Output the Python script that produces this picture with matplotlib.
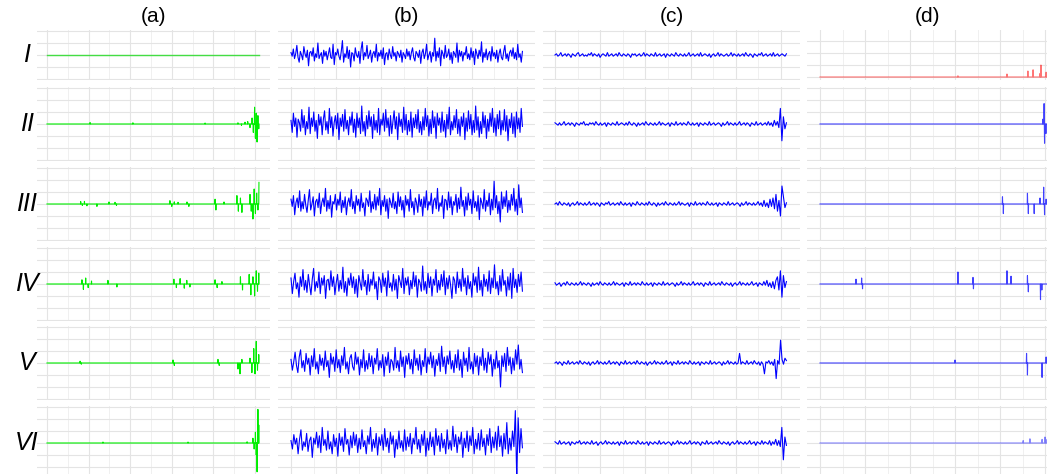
import numpy as np
import matplotlib
matplotlib.use("Agg")
import matplotlib.pyplot as plt
from matplotlib.ticker import MultipleLocator

plt.rcParams["font.family"] = ["Liberation Sans", "DejaVu Sans"]

COL_TITLES = ["(a)", "(b)", "(c)", "(d)"]
ROW_LABELS = ["I", "II", "III", "IV", "V", "VI"]
N = 1040

# column (a): sparse bursts on a flat line, (index, amplitude)
a_spikes = [
    [],
    [(207, 0.12), (413, 0.1), (760, 0.08), (918, 0.1), (935, -0.12), (952, 0.15), (965, 0.2),
     (976, -0.3), (986, 0.5), (992, -0.7), (998, 1.4), (1002, -1.2), (1006, 0.9), (1010, -1.5),
     (1014, 0.7), (1018, -0.4)],
    [(162, 0.2), (170, -0.12), (180, 0.22), (192, -0.15), (240, -0.2), (298, 0.17), (327, 0.14),
     (334, -0.12), (591, 0.28), (600, -0.2), (612, 0.18), (630, 0.14), (673, 0.17), (682, -0.2),
     (808, 0.4), (812, -0.5), (851, 0.17), (913, 0.7), (920, -0.6), (930, 0.5), (937, -0.7),
     (976, 0.8), (982, -0.6), (990, -1.25), (996, 1.25), (1002, -0.8), (1008, 0.9), (1014, -0.5),
     (1019, 1.8)],
    [(168, 0.35), (175, -0.45), (186, 0.5), (198, -0.3), (214, 0.25), (293, 0.3), (336, -0.25),
     (610, 0.4), (622, -0.3), (640, 0.45), (660, -0.35), (672, 0.3), (687, -0.25), (808, 0.35),
     (818, -0.3), (841, 0.2), (930, 0.6), (940, -0.5), (972, 0.8), (980, -0.9), (990, 0.6),
     (998, -1.0), (1006, 1.1), (1012, -0.6), (1018, 0.9)],
    [(159, 0.15), (165, -0.1), (606, 0.25), (612, -0.2), (822, 0.3), (828, -0.2), (918, -0.5),
     (928, -0.9), (937, 0.3), (976, 0.4), (985, -0.8), (994, 1.2), (1000, -0.9), (1006, 1.8),
     (1012, -0.6), (1018, 0.7)],
    [(269, 0.08), (678, 0.08), (962, 0.1), (990, 0.4), (996, -0.5), (1002, 0.9), (1006, -1.0),
     (1010, -2.4), (1014, 2.8), (1018, 1.5), (1022, -1.2), (1026, 0.6)],
]

# column (b): dense noise, tenths of a grid unit
b_rows = [
    [2, -1, 5, -3, 1, 8, -2, -6, 3, 0, -4, 7, 1, -2, 4, -9, 2, 3, -1, 6, -5, 1, -2, 10, -3, 0, 2, -7, 4,
     -1, 3, -4, 1, 6, -2, -3, 9, -8, 2, 0, 5, -1, -4, 3, 12, -6, 1, -2, 7, -3, 4, -10, 2, 1, -5, 6, 0,
     -2, 3, -7, 5, 11, -4, 2, -1, 8, -3, 0, 4, -6, 1, 3, -2, 9, -5, 2, -1, 4, -3, 6, -8, 1, 2, -4, 5, 0,
     -3, 7, -1, 2, -5, 3, 1, -2, 4, -6, 2, 0, -3, 5, -1, 3, -4, 2, 6, -2, -5, 3, 1, -2, 4, -7, 2, 5, -3,
     1, 9, -4, 0, 3, -6, 2, -1, 14, -5, 3, -2, 6, -9, 4, 1, -3, 8, -2, 0, 5, -4, 2, -7, 3, 1, -2, 10,
     -6, 4, -1, 3, -5, 2, 0, 7, -3, 1, -4, 6, -2, 3, -8, 5, 1, -3, 4, -1, 11, -6, 2, -2, 5, -4, 1, 3,
     -5, 7, -1, 2, -3, 4, -6, 1, 5, -2, -4, 3, 8, -3, 1, -5, 2, 4, -1, 6, -3, 2, -4, 9, -2, 1, -6, 3],
    [3, -7, 9, -2, 5, -11, 4, 1, -6, 12, -3, 7, -9, 2, -4, 14, -8, 5, -2, 10, -6, 3, -12, 8, -1, 6, -9,
     4, 11, -5, 2, -8, 13, -3, 6, -10, 1, 7, -4, 9, -13, 5, -2, 8, -6, 12, -4, 3, -9, 6, -1, 10, -7, 4,
     -11, 9, -3, 5, -8, 15, -6, 2, -10, 7, -4, 11, -2, 6, -12, 8, -5, 3, -7, 13, -9, 4, -1, 9, -6, 12,
     -3, 5, -10, 7, -8, 2, 11, -4, 6, -13, 9, -2, 4, -7, 14, -5, 8, -9, 3, -6, 10, -11, 5, -3, 8, -4,
     12, -7, 2, -9, 6, -5, 13, -2, 7, -10, 4, -8, 11, -3, 6, -12, 9, -1, 5, -7, 10, -6, 3, -11, 8, -4,
     14, -9, 2, -5, 7, -3, 12, -8, 4, -10, 6, -2, 9, -13, 5, -6, 11, -4, 8, -9, 3, -7, 15, -5, 6, -11,
     2, -8, 10, -3, 7, -12, 4, -6, 9, -2, 13, -7, 5, -10, 8, -4, 11, -9, 3, -5, 12, -6, 7, -14, 4, -3,
     9, -8, 6, -11, 10, -4, 5, -7, 13, -2],
    [4, -2, 7, -9, 1, 5, -3, 11, -6, 2, -4, 8, -1, -7, 3, 12, -5, 0, 6, -10, 2, 4, -3, 9, -8, 1, 5, -2,
     13, -6, 3, -4, 7, -11, 2, 0, 8, -5, 4, -1, 10, -7, 3, -3, 6, -9, 1, 5, -2, 12, -4, 2, -8, 7, -1, 4,
     -6, 9, -3, 1, -10, 5, 3, -2, 11, -7, 2, -4, 8, -5, 6, -1, 13, -9, 3, -2, 7, -6, 4, -12, 5, 1, -3, 9,
     -4, 2, -8, 10, -2, 6, -5, 3, -11, 7, -1, 4, -6, 12, -3, 2, -9, 5, 1, -7, 8, -2, 4, -10, 6, -3, 11,
     -5, 2, -1, 9, -8, 3, 5, -4, 13, -6, 1, -2, 7, -12, 4, 3, -5, 10, -3, 6, -9, 2, -1, 8, -7, 5, -4, 14,
     -2, 3, -10, 6, -5, 9, -1, 4, -8, 11, -3, 2, -6, 7, -13, 5, 1, -4, 12, -6, 3, -2, 9, -9, 4, -5, 19,
     -3, 7, -8, 2, -15, 10, -4, 6, -2, 11, -7, 3, -5, 8, -1, 13, -6, 4, -9, 16, -3, 5, -7],
    [5, -8, 2, 9, -4, 1, -11, 6, -2, 12, -5, 3, -7, 8, -1, -9, 4, 13, -6, 2, -3, 10, -8, 5, -1, 7, -12,
     3, 4, -5, 11, -2, 6, -9, 1, 8, -6, 3, -4, 14, -7, 2, -10, 5, -1, 9, -3, 6, -8, 4, -11, 7, 1, -5, 12,
     -2, 3, -9, 8, -6, 4, -1, 10, -4, 2, -13, 6, 3, -7, 9, -2, 5, -10, 11, -3, 1, -6, 8, -5, 4, -12, 7,
     2, -3, 13, -8, 5, -1, 6, -9, 3, -4, 10, -2, 7, -11, 4, 1, -6, 15, -5, 2, -8, 9, -3, 6, -10, 4, -1,
     12, -7, 3, -5, 8, -2, 11, -9, 5, -4, 7, -1, -12, 6, 3, -8, 10, -3, 4, -6, 13, -2, 5, -9, 7, -4, 2,
     -11, 9, -1, 6, -7, 14, -5, 3, -10, 8, -2, 4, -6, 11, -8, 5, -3, 16, -4, 2, -9, 7, -6, 12, -1, 3,
     -10, 6, -5, 9, -12, 13, -3, 4, -7, 8, -2, 10, -6],
    [3, -6, 1, 9, -2, -8, 5, 11, -4, 2, -7, 8, -1, 4, -10, 6, -3, 12, -5, 1, -9, 7, -2, 4, -6, 10, -3,
     2, -12, 8, -1, 5, -7, 11, -4, 3, -8, 6, -2, 13, -5, 1, -9, 4, 7, -3, -6, 9, -1, 5, -10, 3, -4, 11,
     -7, 2, -5, 8, -3, 6, -9, 4, -1, 12, -6, 2, -4, 7, -11, 5, -2, 9, -8, 3, 1, -6, 13, -4, 2, -7, 10,
     -3, 5, -12, 6, -1, 8, -5, 3, -9, 11, -2, 4, -6, 7, -10, 2, -3, 12, -8, 5, -1, 9, -4, 6, -11, 3, -2,
     8, -7, 14, -3, 5, -9, 6, -1, 10, -5, 2, -8, 7, -4, 11, -6, 3, -12, 9, -2, 4, -7, 13, -5, 1, -9, 8,
     -3, 6, -10, 5, -2, 12, -6, 4, -8, 9, -1, 7, -11, 3, -5, 10, -4, 2, -20, 6, -3, 8, -7, 13, -2, 5,
     -9, 4, -6, 11, -1, 15, -5, 3, -8],
    [2, -5, 7, -1, 4, -9, 3, 11, -6, 1, -3, 8, -7, 2, 5, -12, 4, -1, 9, -4, 6, -8, 13, -2, 3, -6, 10,
     -5, 1, -9, 7, -3, 4, -11, 8, -2, 5, -7, 12, -1, 3, -10, 6, -4, 9, -2, 7, -8, 4, -5, 11, -3, 2, -9,
     6, -1, 13, -7, 3, -4, 8, -10, 5, -2, 7, -6, 12, -3, 4, -8, 9, -1, 6, -12, 3, -5, 10, -4, 2, -7, 11,
     -6, 5, -3, 8, -9, 4, -1, 13, -5, 3, -8, 7, -2, 10, -11, 4, -6, 9, -3, 5, -10, 12, -2, 6, -7, 8, -4,
     3, -9, 11, -5, 2, -6, 14, -3, 7, -8, 5, -1, 9, -12, 4, -4, 10, -7, 6, -2, 13, -9, 3, -5, 8, -6, 11,
     -3, 4, -10, 7, -2, 12, -8, 5, -4, 9, -6, 14, -3, 6, -11, 8, -5, 17, -9, 4, -6, 10, -3, 27, -30, 21,
     -8, 12, -4],
]

# column (c): low-level noise with bursts near the end, tenths of a grid unit
c_rows = [
    [0, 1, -1, 0, 2, -1, 0, 1, -1, 1, 0, -2, 1, 0, -1, 1, 2, -1, 0, 1, -1, 0, -1, 1, 0, 2, -1, 1, 0, -1,
     1, -2, 0, 1, 0, -1, 2, -1, 0, 1, -1, 0, 1, -1, 2, 0, -1, 1, 0, -1, 1, 0, -2, 1, 0, 1, -1, 0, 1, -1,
     0, 2, -1, 1, 0, -1, 1, 0, -1, 2, -1, 0, 1, -1, 0, 1, -2, 1, 0, -1, 1, 0, -1, 2, 0, -1, 1, 0, -1, 1,
     -1, 0, 2, -1, 0, 1, -1, 0, 1, -1, 2, -1, 0, 1, 0, -1, 1, -2, 0, 1, -1, 0, 2, -1, 1, 0, -1, 0, 1, -1,
     0, 2, -1, 1, 0, -1, 1, -1, 0, 1, -1, 2, 0, -1, 1, 0, -2, 1, 0, -1, 1, 0, 2, -1, 0, 1, -1, 0, 1, -1,
     2, -1, 0, 1, -1, 0, 1, 0, -1, 1],
    [1, 0, -1, 1, -1, 0, 2, -1, 0, 1, -1, 1, 0, -2, 1, 0, -1, 1, 0, 2, -1, 0, -1, 1, 0, 1, -1, 2, 0, -1,
     1, -1, 0, 1, -2, 1, 0, -1, 1, 0, -1, 2, -1, 0, 1, 0, -1, 1, -1, 2, 0, -1, 1, 0, -2, 1, -1, 0, 1, -1,
     2, 0, -1, 1, 0, -1, 1, -1, 0, 2, -1, 1, 0, -1, 0, 1, -2, 1, 0, -1, 2, -1, 0, 1, -1, 1, 0, -1, 2, 0,
     -1, 1, -1, 0, 1, -2, 1, 0, -1, 1, 0, -1, 2, -1, 0, 1, -1, 0, 1, 0, -2, 1, -1, 0, 2, -1, 1, 0, -1, 1,
     -1, 0, 2, -1, 0, 1, -1, 1, 0, -2, 1, 0, -1, 2, -1, 0, 1, -1, 0, 1, -1, 2, -1, 1, -2, 3, -1, 2, -3,
     13, -14, 6, -4, 1],
    [0, 1, -1, 2, 0, -1, 1, 0, -1, 1, -2, 0, 1, -1, 0, 2, -1, 1, 0, -1, 1, -1, 0, 2, -1, 0, 1, -1, 1, 0,
     -2, 1, 0, -1, 1, 0, 2, -1, 0, 1, -1, 0, 1, -1, 2, 0, -1, 1, -1, 0, 1, -2, 1, 0, -1, 2, 0, -1, 1, 0,
     -1, 1, -1, 2, 0, -1, 1, 0, -2, 1, -1, 0, 1, -1, 2, 0, -1, 1, 0, -1, 1, -1, 0, 2, -1, 1, 0, -1, 0, 1,
     -2, 1, 0, -1, 2, -1, 0, 1, -1, 1, 0, -1, 2, 0, -1, 1, -1, 0, 1, -2, 1, 0, -1, 1, 0, -1, 2, -1, 0, 1,
     -1, 0, 1, 0, -2, 1, -1, 0, 2, -1, 1, 0, -1, 1, -1, 0, 2, -1, 1, -2, 3, -2, 1, -3, 4, -2, 5, -4, 8,
     -6, 3, -10, 15, 6, -3, 1],
    [1, -1, 0, 1, -2, 0, 1, -1, 2, 0, -1, 1, 0, -1, 1, -1, 0, 2, -1, 1, 0, -1, 1, 0, -2, 1, -1, 0, 1, -1,
     2, 0, -1, 1, 0, -1, 1, -1, 0, 2, -1, 1, 0, -1, 0, 1, -2, 1, 0, -1, 2, -1, 0, 1, -1, 1, 0, -1, 2, 0,
     -1, 1, -1, 0, 1, -2, 1, 0, -1, 1, 0, -1, 2, -1, 0, 1, -1, 0, 1, 0, -2, 1, -1, 0, 2, -1, 1, 0, -1, 1,
     -1, 0, 2, -1, 0, 1, -1, 1, 0, -2, 1, 0, -1, 2, -1, 0, 1, -1, 0, 1, -1, 2, 0, -1, 1, 0, -1, 1, -2, 0,
     1, -1, 0, 2, -1, 1, 0, -1, 1, -1, 0, 2, -1, 0, 1, -2, 1, 0, -1, 2, -1, 3, -2, 1, -3, 2, -4, 3, 6, -5,
     11, -11, 7, -3, 2],
    [0, 1, -1, 1, 0, -2, 1, 0, -1, 2, -1, 0, 1, -1, 0, 1, -1, 2, 0, -1, 1, 0, -1, 1, -2, 0, 1, -1, 0, 2,
     -1, 1, 0, -1, 1, -1, 0, 2, -1, 0, 1, -1, 1, 0, -2, 1, 0, -1, 2, -1, 0, 1, -1, 0, 1, -1, 2, 0, -1, 1,
     0, -1, 1, -2, 0, 1, -1, 0, 2, -1, 1, 0, -1, 1, -1, 0, 2, -1, 0, 1, -2, 1, 0, -1, 2, -1, 0, 1, -1, 1,
     0, -1, 2, 0, -1, 1, -1, 0, 1, -2, 1, 0, -1, 1, 0, -1, 2, -1, 0, 1, -1, 0, 1, 0, -2, 1, -1, 0, 2, -1,
     1, 0, -1, 1, -1, 0, 8, -1, 1, 0, -1, 2, -1, 0, 1, -1, 2, 0, -1, 1, -2, 1, -1, -9, 1, 0, 2, -1, 1, -2,
     3, -13, 2, -1, 19, 3, -1, 4, 2],
    [1, 0, -1, 2, -1, 0, 1, -1, 0, 1, -2, 1, 0, -1, 1, 0, 2, -1, 0, 1, -1, 1, 0, -1, 2, -1, 0, 1, -2, 0,
     1, -1, 0, 2, -1, 1, 0, -1, 1, -1, 0, 1, -2, 1, 0, -1, 2, -1, 0, 1, -1, 1, 0, -1, 2, 0, -1, 1, -1, 0,
     1, -2, 1, 0, -1, 1, 0, -1, 2, -1, 0, 1, -1, 0, 1, 0, -2, 1, -1, 0, 2, -1, 1, 0, -1, 1, -1, 0, 2, -1,
     0, 1, -1, 1, 0, -2, 1, 0, -1, 2, -1, 0, 1, -1, 0, 1, -1, 2, 0, -1, 1, 0, -1, 1, -2, 0, 1, -1, 0, 2,
     -1, 1, 0, -1, 1, -1, 0, 2, -1, 0, 1, -2, 1, 0, -1, 2, -1, 1, 0, -1, 2, -2, 1, -1, 3, -2, 2, -3, 13,
     -14, 5, -2],
]

# column (d): sparse spikes; row I is a one-sided (non-negative) signal
d_spikes = [
    [(613, 0.1), (831, 0.25), (924, 0.5), (947, 0.6), (978, 0.3), (982, 1.0), (1005, 0.4),
     (1015, 1.7), (1020, 0.6)],
    [(990, 0.4), (996, 1.7), (998, -1.6), (1004, -0.8), (1010, 0.5)],
    [(811, 0.6), (815, -0.8), (922, 0.9), (926, -0.8), (952, -0.8), (978, 0.5), (994, 1.4),
     (998, -0.9), (1005, 0.4)],
    [(160, 0.4), (185, 0.5), (189, -0.4), (613, 1.0), (680, 0.55), (682, -0.4), (831, 1.1),
     (849, 0.65), (922, 0.7), (926, -0.65), (980, -1.3), (986, -0.5), (1010, 0.8)],
    [(600, 0.25), (918, 0.8), (922, -1.0), (987, -1.2), (1005, 0.5)],
    [(903, 0.2), (933, 0.35), (987, 0.3), (1000, 0.5), (1004, 0.3)],
]

# layout in pixels of the 1047x474 canvas
W, H = 1047, 474
col_px = [(37, 270, 47, 0.208), (278, 535, 291, 0.226), (543, 800, 555, 0.226), (807, 1047, 820, 0.225)]
row_px = [(30, 80, 55), (87, 161, 124), (167, 241, 204), (247, 321, 284), (326, 400, 363), (406, 480, 443)]
UNIT = 12.0
END = 1024  # last sample drawn for the dense traces


def spike_series(spikes):
    y = np.zeros(N)
    for i, v in spikes:
        y[i] = v
    return y


fig = plt.figure(figsize=(W / 100, H / 100), dpi=100)

for r in range(6):
    top, bot, mid = row_px[r]
    for c in range(4):
        left, right, x0, s = col_px[c]
        ax = fig.add_axes([left / W, 1 - bot / H, (right - left) / W, (bot - top) / H])
        ax.set_xlim((left - x0) / s, (right - x0) / s)
        if r == 0 and c == 3:
            ax.set_ylim(-(bot - 77) / UNIT, (77 - top) / UNIT)
        else:
            ax.set_ylim(-(bot - mid) / UNIT, (mid - top) / UNIT)

        if c == 0:
            y = spike_series(a_spikes[r])[:1020]
            col = "#44dd44" if r == 0 else "#00ee00"
            ax.plot(np.arange(len(y)), y, color=col, lw=1.0 if r == 0 else 0.8)
        elif c == 1:
            y = np.array(b_rows[r]) / 10
            ax.plot(np.linspace(0, END, len(y)), y, color="#0000ff", lw=0.8)
        elif c == 2:
            y = np.array(c_rows[r]) / 10
            ax.plot(np.linspace(0, END, len(y)), y, color="#0000ff", lw=0.8)
        else:
            y = spike_series(d_spikes[r])
            col = "#ff0000" if r == 0 else "#2020ff"
            ax.plot(np.arange(N), y, color=col, lw=0.8, alpha=0.55 if r in (0, 5) else 0.85)

        ax.xaxis.set_major_locator(MultipleLocator(200))
        ax.xaxis.set_minor_locator(MultipleLocator(100))
        ax.yaxis.set_major_locator(MultipleLocator(1))
        ax.grid(True, which="major", color="#e4e4e4", lw=0.8)
        ax.grid(True, which="minor", axis="x", color="#f0f0f0", lw=0.7)
        ax.set_axisbelow(True)
        ax.tick_params(which="both", length=0, labelbottom=False, labelleft=False)
        for sp in ax.spines.values():
            sp.set_visible(False)

        if r == 0:
            fig.text((left + right) / 2 / W, 1 - 16 / H, COL_TITLES[c],
                     ha="center", va="center", fontsize=15)

    fig.text(27 / W, 1 - mid / H, ROW_LABELS[r], ha="center", va="center",
             fontsize=18, style="italic")

fig.savefig("out.png", dpi=100)
